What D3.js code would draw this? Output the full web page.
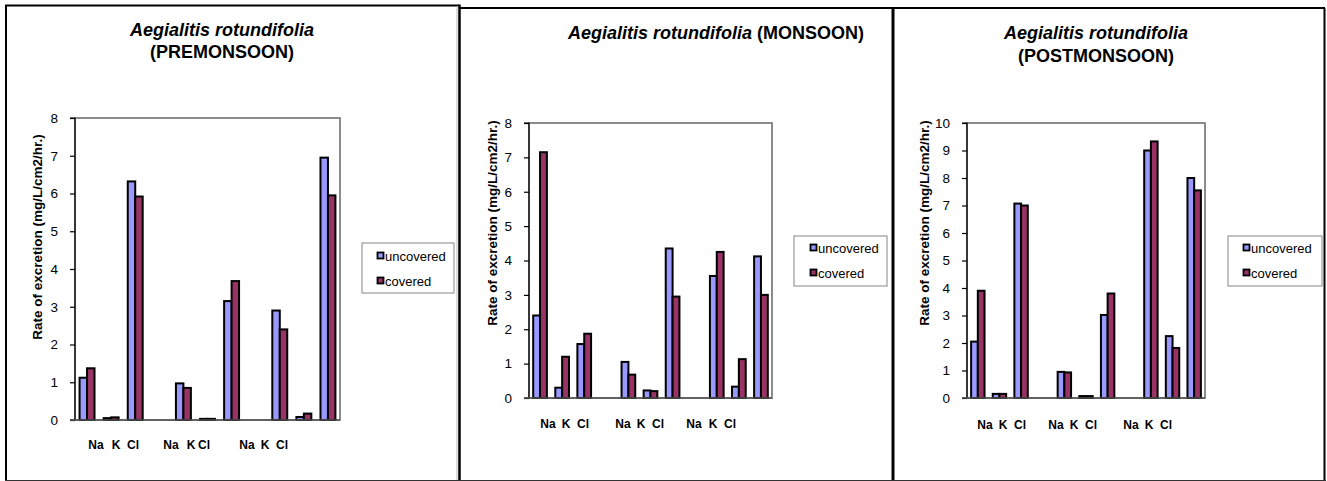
<!DOCTYPE html>
<html><head><meta charset="utf-8">
<script src="https://cdn.jsdelivr.net/npm/d3@7"></script>
<style>body{margin:0;background:#fff}svg{display:block;font-family:"Liberation Sans",Arial,sans-serif}</style>
</head><body>
<svg id="c" width="1327" height="481"></svg>
<script>
// ---- data ----
const categories = ["g1","g2","g3","g4","g5","g6","g7","g8","g9","g10","g11"];
const seriesNames = ["uncovered","covered"];
const ionLabels = ["Na","K","Cl","Na","K","Cl","Na","K","Cl"];
const preUncovered  = [1.12, 0.05, 6.32, null, 0.97, 0.03, 3.15, null, 2.90, 0.08, 6.95];
const preCovered    = [1.37, 0.07, 5.92, null, 0.85, 0.03, 3.68, null, 2.40, 0.17, 5.95];
const monUncovered  = [2.40, 0.30, 1.57, null, 1.05, 0.22, 4.35, null, 3.55, 0.33, 4.12];
const monCovered    = [7.15, 1.20, 1.87, null, 0.68, 0.20, 2.95, null, 4.25, 1.13, 3.00];
const postUncovered = [2.05, 0.15, 7.07, null, 0.95, 0.07, 3.02, null, 9.00, 2.25, 8.00];
const postCovered   = [3.90, 0.15, 7.00, null, 0.93, 0.07, 3.80, null, 9.33, 1.82, 7.55];
const preTicks  = [0,1,2,3,4,5,6,7,8];
const monTicks  = [0,1,2,3,4,5,6,7,8];
const postTicks = [0,1,2,3,4,5,6,7,8,9,10];
const yLabel = "Rate of excretion (mg/L/cm2/hr.)";

const colors = ["#9999FF", "#993366"];

// ---- layout ----
const panels = [
  {title:[["Aegialitis rotundifolia", true]], title2:"(PREMONSOON)", tx:222, ty:[36,58],
   series:[preUncovered, preCovered], ticks:preTicks, ymax:8,
   px0:75, px1:340, py0:420, py1:118, ylx:37, yly:237,
   leg:{x:362,y:243,w:92,h:50, mx:377, r1:256, r2:281},
   ionX:[96,116,133,171,191,204,247,265,282], ionY:449},
  {title:[["Aegialitis rotundifolia", true],[" (MONSOON)", false]], title2:null, tx:716, ty:[39],
   series:[monUncovered, monCovered], ticks:monTicks, ymax:8,
   px0:529, px1:772, py0:398, py1:123, ylx:492, yly:223,
   leg:{x:794,y:236,w:93,h:50, mx:810, r1:248, r2:273},
   ionX:[548,566,583,623,641,658,694,713,730], ionY:428},
  {title:[["Aegialitis rotundifolia", true]], title2:"(POSTMONSOON)", tx:1096, ty:[39,62],
   series:[postUncovered, postCovered], ticks:postTicks, ymax:10,
   px0:967, px1:1205, py0:398, py1:123, ylx:924, yly:223,
   leg:{x:1228,y:236,w:94,h:50, mx:1243, r1:248, r2:273},
   ionX:[985,1003,1020,1056,1074,1091,1131,1149,1166], ionY:429}
];

const svg = d3.select("#c");

// outer frames
const frame = svg.append("g").attr("stroke","#000").attr("fill","none");
frame.append("path").attr("d","M6,481 V5.5 H459").attr("stroke-width",2);
frame.append("path").attr("d","M459,8 H1325").attr("stroke-width",2);
frame.append("line").attr("x1",457).attr("x2",457).attr("y1",6).attr("y2",481).attr("stroke","#bbb").attr("stroke-width",1);
frame.append("line").attr("x1",459.5).attr("x2",459.5).attr("y1",4.5).attr("y2",481).attr("stroke-width",2.5);
frame.append("line").attr("x1",893).attr("x2",893).attr("y1",8).attr("y2",481).attr("stroke-width",3);
frame.append("line").attr("x1",1324.5).attr("x2",1324.5).attr("y1",8).attr("y2",481).attr("stroke-width",2);
frame.append("line").attr("x1",5).attr("x2",1326).attr("y1",480.5).attr("y2",480.5).attr("stroke","#333").attr("stroke-width",1.2);

panels.forEach(p => {
  const g = svg.append("g");
  const x = d3.scaleBand().domain(categories).range([p.px0, p.px1]).paddingInner(0.38).paddingOuter(0.19);
  const xs = d3.scaleBand().domain(seriesNames).range([0, x.bandwidth()]);
  const y = d3.scaleLinear().domain([0, p.ymax]).range([p.py0, p.py1]);

  // title
  const t = g.append("text").attr("x", p.tx).attr("y", p.ty[0]).attr("text-anchor","middle")
    .attr("font-size",18).attr("font-weight","bold").attr("fill","#000");
  p.title.forEach(([s, it]) => t.append("tspan").attr("font-style", it ? "italic" : "normal").text(s));
  if (p.title2) g.append("text").attr("x", p.tx).attr("y", p.ty[1]).attr("text-anchor","middle")
    .attr("font-size",18).attr("font-weight","bold").text(p.title2);

  // plot area border
  g.append("rect").attr("x", p.px0).attr("y", p.py1).attr("width", p.px1 - p.px0).attr("height", p.py0 - p.py1)
    .attr("fill","none").attr("stroke","#808080").attr("stroke-width",1.8);

  // bars
  p.series.forEach((vals, si) => {
    g.append("g").selectAll("rect").data(categories.map((c,i)=>({c, v:vals[i]})).filter(d => d.v != null))
      .join("rect")
      .attr("x", d => x(d.c) + xs(seriesNames[si]))
      .attr("width", xs.bandwidth())
      .attr("y", d => y(d.v))
      .attr("height", d => y(0) - y(d.v))
      .attr("fill", colors[si]).attr("stroke","#000").attr("stroke-width",2);
  });

  // y axis
  const ax = g.append("g").attr("transform", `translate(${p.px0},0)`)
    .call(d3.axisLeft(y).tickValues(p.ticks).tickFormat(d3.format("d")).tickSize(5).tickPadding(12));
  ax.select(".domain").attr("stroke","#000").attr("stroke-width",1.2).attr("d", `M-5,${p.py0}H0V${p.py1}H-5`);
  ax.selectAll(".tick line").attr("stroke","#000").attr("stroke-width",1.2);
  ax.selectAll(".tick text").attr("font-size",13.5).attr("fill","#000").attr("font-family","'Liberation Sans',Arial,sans-serif");
  // bottom axis line
  g.append("line").attr("x1", p.px0 - 5).attr("x2", p.px1).attr("y1", p.py0).attr("y2", p.py0)
    .attr("stroke","#555").attr("stroke-width",1.5);

  // y label
  g.append("text").attr("transform", `translate(${p.ylx},${p.yly}) rotate(-90)`)
    .attr("text-anchor","middle").attr("dominant-baseline","central")
    .attr("font-size",13.5).attr("font-weight","bold").text(yLabel);

  // ion labels
  g.append("g").selectAll("text").data(ionLabels).join("text")
    .attr("x", (d,i) => p.ionX[i]).attr("y", p.ionY).attr("text-anchor","middle")
    .attr("font-size",12).attr("font-weight","bold").text(d => d);

  // legend
  const L = p.leg;
  g.append("rect").attr("x", L.x).attr("y", L.y).attr("width", L.w).attr("height", L.h)
    .attr("fill","#fff").attr("stroke","#999").attr("stroke-width",1.2);
  seriesNames.forEach((s, i) => {
    const cy = i === 0 ? L.r1 : L.r2;
    g.append("rect").attr("x", L.mx + 0.5).attr("y", cy - 3.5).attr("width", 6).attr("height", 6)
      .attr("fill", colors[i]).attr("stroke","#000").attr("stroke-width",1.8);
    g.append("text").attr("x", L.mx + 8).attr("y", cy).attr("dominant-baseline","central")
      .attr("font-size",13).text(s);
  });
});
</script>
</body></html>
